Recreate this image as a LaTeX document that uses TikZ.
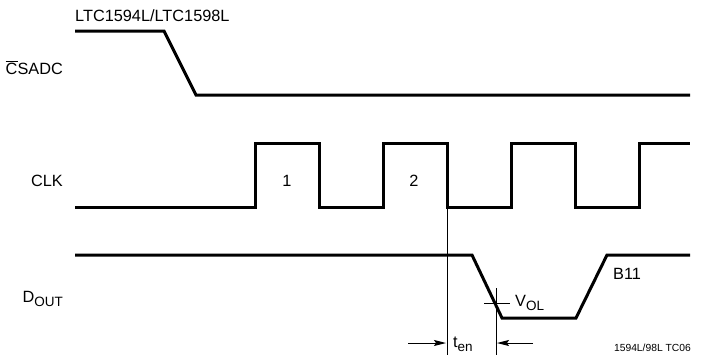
\documentclass[tikz,border=0pt]{standalone}
\usepackage{fontspec}
\setmainfont{Liberation Sans}
\usetikzlibrary{arrows.meta}
\newcommand{\lowsub}[1]{\raisebox{-4.5pt}{\fontsize{13.5}{14}\selectfont #1}}
\tikzset{
  sig/.style={line width=3pt, line join=miter, black},
  thin/.style={line width=1pt, black},
  lbl/.style={font=\fontsize{16.3}{18}\selectfont, inner sep=0pt, text=black},
  small/.style={font=\fontsize{10.3}{12}\selectfont, inner sep=0pt},
  meas/.style={thin, -{Stealth[length=12pt,width=6pt,inset=2pt]}}
}
\begin{document}
\begin{tikzpicture}[x=1pt,y=-1pt]
\useasboundingbox (0,0) rectangle (707,362);
% labels
\node[lbl, anchor=base west] (title) at (75,21) {LTC1594L/LTC1598L};
\node[lbl, anchor=base east] (cs) at (63,74) {$\overline{\hbox{C}}$SADC};
\node[lbl, anchor=base east] (clk) at (63,186) {CLK};
\node[lbl, anchor=base] (p1) at (287,186) {1};
\node[lbl, anchor=base] (p2) at (414,186) {2};
\node[lbl, anchor=base east] (dout) at (63,302) {D\lowsub{OUT}};
\node[lbl, anchor=base west] (vol) at (515,306) {V\lowsub{OL}};
\node[lbl, anchor=base west] (ten) at (453,347) {t\lowsub{en}};
\node[lbl, anchor=base west] (b11) at (613,279) {B11};
\node[small, anchor=base east] (tc) at (691,351) {1594L/98L TC06};
% CS waveform
\draw[sig] (75,31) -- (164,31) -- (196,95) -- (690,95);
% CLK waveform
\draw[sig] (75,207) -- (255,207) -- (255,143) -- (319,143) -- (319,207)
  -- (383,207) -- (383,143) -- (447,143) -- (447,207)
  -- (511,207) -- (511,143) -- (575,143) -- (575,207)
  -- (639,207) -- (639,143) -- (690,143);
% DOUT waveform
\draw[sig] (75,255) -- (472,255) -- (502,318) -- (576,318) -- (607,255) -- (690,255);
% timing marks
\coordinate (va) at (447.5,207);
\coordinate (vb) at (447.5,355);
\coordinate (wa) at (496,288);
\coordinate (wb) at (496,355);
\draw[thin] (va) -- (vb);
\draw[thin] (wa) -- (wb);
\coordinate (ha) at (484,303);
\coordinate (hb) at (510,303);
\draw[thin] (ha) -- (hb);
\coordinate (la) at (408,343);
\coordinate (lb) at (446,343);
\coordinate (ra) at (533,343);
\coordinate (rb) at (497,343);
\draw[meas] (la) -- (lb);
\draw[meas] (ra) -- (rb);
\end{tikzpicture}
\end{document}
